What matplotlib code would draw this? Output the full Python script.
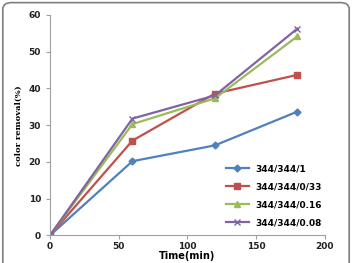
import matplotlib
matplotlib.use("Agg")
import matplotlib.pyplot as plt
from matplotlib.patches import FancyBboxPatch

# Data
time_min = [0, 60, 120, 180]
s_1 = [0, 20.2, 24.5, 33.7]
s_033 = [0, 25.8, 38.6, 43.7]
s_016 = [0, 30.3, 37.3, 54.2]
s_008 = [0, 31.8, 38.1, 56.3]
labels = ["344/344/1", "344/344/0/33", "344/344/0.16", "344/344/0.08"]

fig = plt.figure(figsize=(3.52, 2.63), dpi=100)
fig.patches.append(FancyBboxPatch((0.008, -0.05), 0.984, 1.04,
                                  boxstyle="round,pad=0,rounding_size=0.025",
                                  transform=fig.transFigure, fill=False,
                                  edgecolor="#7f7f7f", linewidth=1.2))
ax = fig.add_axes([0.142, 0.105, 0.781, 0.838])

ax.plot(time_min, s_1, color="#4F81BD", marker="D", markersize=3.5, lw=1.6, label=labels[0])
ax.plot(time_min, s_033, color="#C0504D", marker="s", markersize=5, lw=1.6, label=labels[1])
ax.plot(time_min, s_016, color="#9BBB59", marker="^", markersize=5, lw=1.6, label=labels[2])
ax.plot(time_min, s_008, color="#8064A2", marker="x", markersize=5, lw=1.6, label=labels[3])

ax.set_xlim(0, 200)
ax.set_ylim(0, 60)
ax.set_xticks([0, 50, 100, 150, 200])
ax.set_yticks([0, 10, 20, 30, 40, 50, 60])
for s in ["top", "right"]:
    ax.spines[s].set_visible(False)
for s in ["left", "bottom"]:
    ax.spines[s].set_color("#a0a0a0")
    ax.spines[s].set_linewidth(0.8)
ax.tick_params(colors="#a0a0a0", length=3, width=0.8, labelsize=6.5, labelcolor="#222222")
ax.tick_params(axis="x", pad=1.5)
for t in ax.get_xticklabels() + ax.get_yticklabels():
    t.set_fontweight("bold")

ax.set_xlabel("Time(min)", fontsize=7, fontweight="bold", labelpad=0.5)
ax.set_ylabel("color removal(%)", fontsize=6, fontweight="bold", family="DejaVu Serif", labelpad=4)

leg = ax.legend(loc="lower right", bbox_to_anchor=(1.02, 0.0), frameon=False,
                handlelength=2.5, labelspacing=1.0,
                prop={"weight": "bold", "size": 6.5})

fig.savefig("out.png", dpi=100)
